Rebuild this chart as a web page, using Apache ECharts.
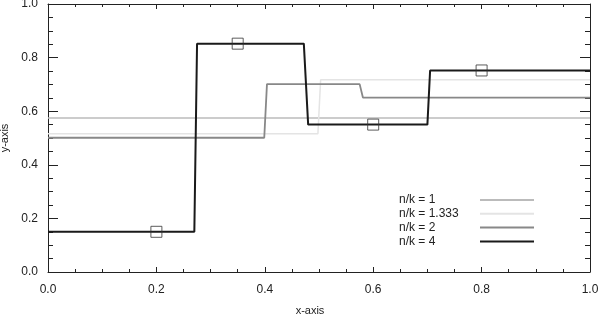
<!DOCTYPE html>
<html>
<head>
<meta charset="utf-8">
<script src="https://cdn.jsdelivr.net/npm/echarts@6/dist/echarts.min.js"></script>
<style>
  html, body { margin: 0; padding: 0; background: #fff; }
  #chart { width: 600px; height: 318px; }
</style>
</head>
<body>
<div id="chart"></div>
<script>
// step corners (x, y)
const nk1X = [0, 1]
const nk1Y = [0.575, 0.575]
const nk133X = [0, 0.498, 0.503, 1]
const nk133Y = [0.516, 0.516, 0.717, 0.717]
const nk2X = [0, 0.399, 0.404, 0.575, 0.581, 1]
const nk2Y = [0.501, 0.501, 0.701, 0.701, 0.651, 0.651]
const nk4X = [0, 0.27, 0.275, 0.472, 0.48, 0.70, 0.705, 1]
const nk4Y = [0.15, 0.15, 0.852, 0.852, 0.55, 0.55, 0.752, 0.752]

// square markers
const markX = [0.2, 0.35, 0.6, 0.8]
const markY = [0.15, 0.852, 0.55, 0.752]

const seriesNames = ['n/k = 1', 'n/k = 1.333', 'n/k = 2', 'n/k = 4']
const seriesColors = ['#bbbbbb', '#e4e4e4', '#888888', '#1a1a1a']
const seriesWidths = [1.5, 1.5, 1.8, 2]

const zip = (xs, ys) => xs.map((x, i) => [x, ys[i]])
const lines = [zip(nk1X, nk1Y), zip(nk133X, nk133Y), zip(nk2X, nk2Y), zip(nk4X, nk4Y)]

const chart = echarts.init(document.getElementById('chart'))

// x axes: short ticks, y axes: longer ticks, all pointing into the frame
const xTick = { show: true, inside: true, length: 5, lineStyle: { color: '#222' } }
const xMinor = { show: true, splitNumber: 4, length: 3, lineStyle: { color: '#222' } }
const yTick = { show: true, inside: true, length: 10, lineStyle: { color: '#222' } }
const yMinor = { show: true, splitNumber: 4, length: 5, lineStyle: { color: '#222' } }

const axisCommon = {
  type: 'value',
  min: 0,
  max: 1,
  interval: 0.2,
  axisLine: { show: true, onZero: false, lineStyle: { color: '#222', width: 1 } },
  splitLine: { show: false },
}

const option = {
  animation: false,
  textStyle: { fontFamily: 'Liberation Sans, Arial, sans-serif' },
  grid: { left: 48, right: 10, top: 4, bottom: 46, outerBoundsMode: 'none', containLabel: false },
  xAxis: [
    Object.assign({}, axisCommon, {
      position: 'bottom',
      name: 'x-axis',
      nameLocation: 'middle',
      nameGap: 33,
      nameTextStyle: { color: '#222', fontSize: 11, padding: [0, 18, 0, 0] },
      axisTick: xTick,
      minorTick: xMinor,
      axisLabel: { color: '#222', fontSize: 12, margin: 12, formatter: v => v.toFixed(1) },
    }),
    Object.assign({}, axisCommon, {
      position: 'top',
      axisTick: xTick,
      minorTick: xMinor,
      axisLabel: { show: false },
    }),
  ],
  yAxis: [
    Object.assign({}, axisCommon, {
      position: 'left',
      name: 'y-axis',
      nameLocation: 'middle',
      nameGap: 36,
      nameTextStyle: { color: '#222', fontSize: 11 },
      axisTick: yTick,
      minorTick: yMinor,
      axisLabel: { color: '#222', fontSize: 12, margin: 10, formatter: v => v.toFixed(1) },
    }),
    Object.assign({}, axisCommon, {
      position: 'right',
      axisTick: yTick,
      minorTick: yMinor,
      axisLabel: { show: false },
    }),
  ],
  legend: {
    data: seriesNames,
    orient: 'vertical',
    left: 394,
    top: 189,
    align: 'right',
    itemWidth: 54,
    itemHeight: 14,
    itemGap: 1.8,
    selectedMode: false,
    itemStyle: { opacity: 0 },
    formatter: '{t|{name}}',
    textStyle: {
      color: '#222',
      fontSize: 12,
      rich: { t: { width: 76, align: 'left', fontSize: 12, color: '#222', lineHeight: 14 } },
    },
  },
  series: lines.map((pts, i) => ({
    name: seriesNames[i],
    type: 'line',
    data: pts,
    symbol: 'none',
    z: 2 + i,
    lineStyle: { color: seriesColors[i], width: seriesWidths[i] },
    itemStyle: { color: seriesColors[i] },
  })).concat([{
    name: 'markers',
    type: 'scatter',
    data: zip(markX, markY),
    symbol: 'rect',
    symbolSize: 11,
    z: 10,
    itemStyle: { color: 'rgba(0,0,0,0)', borderColor: '#333', borderWidth: 1 },
  }]),
}

chart.setOption(option)
</script>
</body>
</html>
